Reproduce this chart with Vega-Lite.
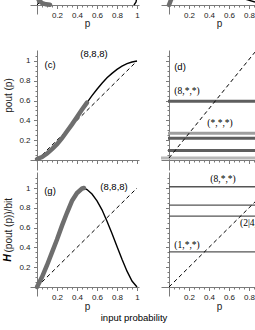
{
  "$schema": "https://vega.github.io/schema/vega-lite/v6.json",
  "padding": {"left": 3, "top": 0, "right": 0, "bottom": 0},
  "config": {
    "view": {"stroke": null},
    "font": "Liberation Sans",
    "text": {"fill": "black"},
    "axis": {"domainColor": "#7a7a7a", "tickColor": "#7a7a7a", "labelColor": "#222222", "labelFont": "Liberation Sans", "labelFontSize": 8, "titleFont": "Liberation Sans", "titleFontSize": 10, "titleFontWeight": "normal", "titleColor": "#222222", "grid": false, "tickSize": 2, "labelPadding": 3, "domainWidth": 1, "tickWidth": 1, "labelOverlap": false, "labelFlush": false}
  },
  "datasets": {
    "diag": [{"p": 0, "v": 0}, {"p": 1, "v": 1}],
    "pout": [{"p": 0, "v": 0.01}, {"p": 0.05, "v": 0.03}, {"p": 0.1, "v": 0.065}, {"p": 0.15, "v": 0.11}, {"p": 0.2, "v": 0.16}, {"p": 0.25, "v": 0.22}, {"p": 0.3, "v": 0.29}, {"p": 0.35, "v": 0.36}, {"p": 0.4, "v": 0.435}, {"p": 0.45, "v": 0.51}, {"p": 0.5, "v": 0.58}, {"p": 0.55, "v": 0.65}, {"p": 0.6, "v": 0.715}, {"p": 0.65, "v": 0.775}, {"p": 0.7, "v": 0.83}, {"p": 0.75, "v": 0.875}, {"p": 0.8, "v": 0.915}, {"p": 0.85, "v": 0.948}, {"p": 0.9, "v": 0.973}, {"p": 0.95, "v": 0.99}, {"p": 1, "v": 1}],
    "hent": [{"p": 0, "v": 0}, {"p": 0.05, "v": 0.1}, {"p": 0.1, "v": 0.22}, {"p": 0.15, "v": 0.35}, {"p": 0.2, "v": 0.48}, {"p": 0.25, "v": 0.62}, {"p": 0.3, "v": 0.75}, {"p": 0.35, "v": 0.87}, {"p": 0.4, "v": 0.95}, {"p": 0.45, "v": 0.995}, {"p": 0.47, "v": 1.0}, {"p": 0.5, "v": 0.985}, {"p": 0.55, "v": 0.94}, {"p": 0.6, "v": 0.87}, {"p": 0.65, "v": 0.78}, {"p": 0.7, "v": 0.665}, {"p": 0.75, "v": 0.54}, {"p": 0.8, "v": 0.41}, {"p": 0.85, "v": 0.28}, {"p": 0.9, "v": 0.16}, {"p": 0.95, "v": 0.06}, {"p": 1, "v": 0}],
    "a_gray": [{"p": 0, "v": 0.09}, {"p": 0.02, "v": 0.045}, {"p": 0.05, "v": 0.02}, {"p": 0.09, "v": 0.007}, {"p": 0.13, "v": 0.002}],
    "a_black": [{"p": 0.97, "v": 0.0}, {"p": 0.99, "v": 0.03}, {"p": 1.0, "v": 0.08}],
    "b_gray": [{"p": 0, "v": 0}, {"p": 0.03, "v": 0.08}],
    "b_black": [{"p": 0.68, "v": 0.09}, {"p": 0.76, "v": 0.06}, {"p": 0.86, "v": 0.03}],
    "ddiag": [{"p": 0, "v": 0.02}, {"p": 0.86, "v": 1.09}],
    "dlines": [{"v": 0.593, "g": "dark", "p0": -0.01, "p1": 0.86}, {"v": 0.27, "g": "light", "p0": -0.01, "p1": 0.86}, {"v": 0.22, "g": "dark", "p0": -0.01, "p1": 0.86}, {"v": 0.097, "g": "dark", "p0": -0.01, "p1": 0.86}, {"v": 0.02, "g": "pale", "p0": -0.08, "p1": 0.86}],
    "hlines": [{"v": 1.013, "p0": 0, "p1": 0.86}, {"v": 0.828, "p0": 0, "p1": 0.86}, {"v": 0.717, "p0": 0, "p1": 0.86}, {"v": 0.354, "p0": 0, "p1": 0.86}],
    "clab": [{"p": 0.57, "v": 1.07, "t": "(8,8,8)"}, {"p": 0.13, "v": 0.96, "t": "(c)"}],
    "glab": [{"p": 0.77, "v": 1.015, "t": "(8,8,8)"}, {"p": 0.13, "v": 0.965, "t": "(g)"}],
    "dlab": [{"p": 0.11, "v": 0.94, "t": "(d)"}],
    "dlab2": [{"p": 0.18, "v": 0.70, "t": "(8,*,*)"}, {"p": 0.51, "v": 0.374, "t": "(*,*,*)"}],
    "hlab": [{"p": 0.54, "v": 1.09, "t": "(8,*,*)"}, {"p": 0.18, "v": 0.424, "t": "(1,*,*)"}],
    "hlab2": [{"p": 0.71, "v": 0.646, "t": "(2|4,*,*)"}],
    "hmark": [{"p": -0.29, "v": 0.293, "t": "H"}]
  },
  "concat": [
    {
      "width": 109, "height": 48,
      "encoding": {
        "x": {"field": "p", "type": "quantitative", "scale": {"domain": [-0.07, 1.02], "nice": false, "zero": false},
          "axis": {"values": [0.05,0.1,0.15,0.2,0.25,0.3,0.35,0.4,0.45,0.5,0.55,0.6,0.65,0.7,0.75,0.8,0.85,0.9,0.95,1], "labelExpr": "abs(datum.value*5 - round(datum.value*5)) < 0.001 ? (datum.value == 1 ? '1' : format(datum.value, '.1f')) : ''", "tickSize": {"condition": {"test": "abs(datum.value*5 - round(datum.value*5)) < 0.001", "value": 3.5}, "value": 2}, "offset": -43, "title": "p", "titleX": 57, "titleY": 21.5, "titleBaseline": "alphabetic"}},
        "y": {"field": "v", "type": "quantitative", "scale": {"domain": [-0.434, 0.0505], "nice": false, "zero": false},
          "axis": {"values": [], "labels": false, "ticks": false, "title": null, "offset": -7, "domainDash": [0, 34, 14, 200]}}
      },
      "layer": [
        {"data": {"name": "diag"}, "mark": {"type": "line", "clip": true, "color": "black", "strokeWidth": 1, "strokeDash": [4, 3]}},
        {"data": {"name": "a_black"}, "mark": {"type": "line", "clip": true, "color": "black", "strokeWidth": 1.4}},
        {"data": {"name": "a_gray"}, "mark": {"type": "line", "clip": true, "color": "#6e6e6e", "strokeWidth": 4.5, "strokeCap": "round"}}
      ]
    },
    {
      "width": 94, "height": 48,
      "encoding": {
        "x": {"field": "p", "type": "quantitative", "scale": {"domain": [-0.08, 0.86], "nice": false, "zero": false},
          "axis": {"values": [0.05,0.1,0.15,0.2,0.25,0.3,0.35,0.4,0.45,0.5,0.55,0.6,0.65,0.7,0.75,0.8,0.85], "labelExpr": "abs(datum.value*5 - round(datum.value*5)) < 0.001 ? format(datum.value, '.1f') : ''", "tickSize": {"condition": {"test": "abs(datum.value*5 - round(datum.value*5)) < 0.001", "value": 3.5}, "value": 2}, "offset": -43, "title": "p", "titleX": 58, "titleY": 21.5, "titleBaseline": "alphabetic"}},
        "y": {"field": "v", "type": "quantitative", "scale": {"domain": [-0.434, 0.0505], "nice": false, "zero": false},
          "axis": {"values": [], "labels": false, "ticks": false, "title": null, "offset": -8, "domainDash": [0, 34, 14, 200]}}
      },
      "layer": [
        {"data": {"name": "diag"}, "mark": {"type": "line", "clip": true, "color": "black", "strokeWidth": 1, "strokeDash": [4, 3]}},
        {"data": {"name": "b_black"}, "mark": {"type": "line", "clip": true, "color": "black", "strokeWidth": 1.4}},
        {"data": {"name": "b_gray"}, "mark": {"type": "line", "clip": true, "color": "#6e6e6e", "strokeWidth": 4.5, "strokeCap": "round"}}
      ]
    },
    {
      "width": 109, "height": 120,
      "encoding": {
        "x": {"field": "p", "type": "quantitative", "scale": {"domain": [-0.07, 1.02], "nice": false, "zero": false},
          "axis": {"values": [0.05,0.1,0.15,0.2,0.25,0.3,0.35,0.4,0.45,0.5,0.55,0.6,0.65,0.7,0.75,0.8,0.85,0.9,0.95,1], "labels": false, "tickSize": {"condition": {"test": "abs(datum.value*5 - round(datum.value*5)) < 0.001", "value": 3.5}, "value": 2}, "offset": -10, "title": null}},
        "y": {"field": "v", "type": "quantitative", "scale": {"domain": [-0.101, 1.111], "nice": false, "zero": false},
          "axis": {"values": [0.05,0.1,0.15,0.2,0.25,0.3,0.35,0.4,0.45,0.5,0.55,0.6,0.65,0.7,0.75,0.8,0.85,0.9,0.95,1,1.05], "labelExpr": "abs(datum.value*5 - round(datum.value*5)) < 0.001 ? (datum.value == 1 ? '1' : format(datum.value, '.1f')) : ''", "tickSize": {"condition": {"test": "abs(datum.value*5 - round(datum.value*5)) < 0.001", "value": 3.5}, "value": 2}, "labelPadding": 3.5, "offset": -7, "title": "pout (p)", "titleX": -29, "titleY": 45, "titleAngle": 270, "titleAlign": "center", "titleBaseline": "middle"}}
      },
      "layer": [
        {"data": {"name": "diag"}, "mark": {"type": "line", "clip": true, "color": "black", "strokeWidth": 1, "strokeDash": [4, 3]}},
        {"data": {"name": "pout"}, "mark": {"type": "line", "clip": true, "color": "black", "strokeWidth": 1.4}},
        {"data": {"name": "pout"}, "transform": [{"filter": "datum.p <= 0.5"}], "mark": {"type": "line", "clip": true, "color": "#6e6e6e", "strokeWidth": 4.5, "strokeCap": "round"}},
        {"data": {"name": "clab"}, "mark": {"type": "text", "font": "Liberation Sans", "fontSize": 9.5, "fill": "black", "align": "center", "baseline": "middle"}, "encoding": {"text": {"field": "t"}}}
      ]
    },
    {
      "width": 94, "height": 120,
      "encoding": {
        "x": {"field": "p", "type": "quantitative", "scale": {"domain": [-0.08, 0.86], "nice": false, "zero": false},
          "axis": {"values": [0.05,0.1,0.15,0.2,0.25,0.3,0.35,0.4,0.45,0.5,0.55,0.6,0.65,0.7,0.75,0.8,0.85], "labels": false, "tickSize": {"condition": {"test": "abs(datum.value*5 - round(datum.value*5)) < 0.001", "value": 3.5}, "value": 2}, "offset": -10, "title": null}},
        "y": {"field": "v", "type": "quantitative", "scale": {"domain": [-0.101, 1.111], "nice": false, "zero": false},
          "axis": {"values": [0.05,0.1,0.15,0.2,0.25,0.3,0.35,0.4,0.45,0.5,0.55,0.6,0.65,0.7,0.75,0.8,0.85,0.9,0.95,1,1.05], "labels": false, "tickSize": {"condition": {"test": "abs(datum.value*5 - round(datum.value*5)) < 0.001", "value": 3.5}, "value": 2}, "offset": -8, "title": null}}
      },
      "layer": [
        {"data": {"name": "dlines"}, "mark": {"type": "rule", "clip": true, "strokeWidth": 3}, "encoding": {"x": {"field": "p0", "type": "quantitative"}, "x2": {"field": "p1"}, "y": {"field": "v", "type": "quantitative"}, "color": {"field": "g", "type": "nominal", "scale": {"domain": ["dark", "light", "pale"], "range": ["#5e5e5e", "#9e9e9e", "#b8b8b8"]}, "legend": null}}},
        {"data": {"name": "ddiag"}, "mark": {"type": "line", "clip": true, "color": "black", "strokeWidth": 1, "strokeDash": [4, 3]}},
        {"data": {"name": "dlab"}, "mark": {"type": "text", "font": "Liberation Sans", "fontSize": 9.5, "fill": "black", "align": "center", "baseline": "middle"}, "encoding": {"text": {"field": "t"}}},
        {"data": {"name": "dlab2"}, "mark": {"type": "text", "font": "Liberation Serif", "fontSize": 9.5, "fill": "black", "align": "center", "baseline": "middle"}, "encoding": {"text": {"field": "t"}}}
      ]
    },
    {
      "width": 109, "height": 124,
      "encoding": {
        "x": {"field": "p", "type": "quantitative", "scale": {"domain": [-0.07, 1.02], "nice": false, "zero": false},
          "axis": {"values": [0.05,0.1,0.15,0.2,0.25,0.3,0.35,0.4,0.45,0.5,0.55,0.6,0.65,0.7,0.75,0.8,0.85,0.9,0.95,1], "labelExpr": "abs(datum.value*5 - round(datum.value*5)) < 0.001 ? (datum.value == 1 ? '1' : format(datum.value, '.1f')) : ''", "tickSize": {"condition": {"test": "abs(datum.value*5 - round(datum.value*5)) < 0.001", "value": 3.5}, "value": 2}, "offset": -9, "title": "p", "titleX": 57, "titleY": 22, "titleBaseline": "alphabetic"}},
        "y": {"field": "v", "type": "quantitative", "scale": {"domain": [-0.091, 1.162], "nice": false, "zero": false},
          "axis": {"values": [0.05,0.1,0.15,0.2,0.25,0.3,0.35,0.4,0.45,0.5,0.55,0.6,0.65,0.7,0.75,0.8,0.85,0.9,0.95,1,1.05,1.1], "labelExpr": "abs(datum.value*5 - round(datum.value*5)) < 0.001 ? (datum.value == 1 ? '1' : format(datum.value, '.1f')) : ''", "tickSize": {"condition": {"test": "abs(datum.value*5 - round(datum.value*5)) < 0.001", "value": 3.5}, "value": 2}, "labelPadding": 3.5, "offset": -7, "title": "(pout (p))/bit", "titleX": -29, "titleY": 80, "titleAngle": 270, "titleAlign": "left", "titleBaseline": "middle"}}
      },
      "layer": [
        {"data": {"name": "diag"}, "mark": {"type": "line", "clip": true, "color": "black", "strokeWidth": 1, "strokeDash": [4, 3]}},
        {"data": {"name": "hent"}, "mark": {"type": "line", "clip": true, "color": "black", "strokeWidth": 1.4}},
        {"data": {"name": "hent"}, "transform": [{"filter": "datum.p <= 0.47"}], "mark": {"type": "line", "clip": true, "color": "#6e6e6e", "strokeWidth": 4.5, "strokeCap": "round"}},
        {"data": {"name": "glab"}, "mark": {"type": "text", "font": "Liberation Sans", "fontSize": 9.5, "fill": "black", "align": "center", "baseline": "middle"}, "encoding": {"text": {"field": "t"}}},
        {"data": {"name": "hmark"}, "mark": {"type": "text", "font": "Liberation Sans", "fontSize": 10.5, "fontWeight": "bold", "fontStyle": "italic", "fill": "black", "align": "center", "baseline": "middle", "angle": 270}, "encoding": {"text": {"field": "t"}}}
      ]
    },
    {
      "width": 94, "height": 124,
      "encoding": {
        "x": {"field": "p", "type": "quantitative", "scale": {"domain": [-0.08, 0.86], "nice": false, "zero": false},
          "axis": {"values": [0.05,0.1,0.15,0.2,0.25,0.3,0.35,0.4,0.45,0.5,0.55,0.6,0.65,0.7,0.75,0.8,0.85], "labelExpr": "abs(datum.value*5 - round(datum.value*5)) < 0.001 ? format(datum.value, '.1f') : ''", "tickSize": {"condition": {"test": "abs(datum.value*5 - round(datum.value*5)) < 0.001", "value": 3.5}, "value": 2}, "offset": -9, "title": "p", "titleX": 58, "titleY": 22, "titleBaseline": "alphabetic"}},
        "y": {"field": "v", "type": "quantitative", "scale": {"domain": [-0.091, 1.162], "nice": false, "zero": false},
          "axis": {"values": [0.05,0.1,0.15,0.2,0.25,0.3,0.35,0.4,0.45,0.5,0.55,0.6,0.65,0.7,0.75,0.8,0.85,0.9,0.95,1,1.05,1.1], "labels": false, "tickSize": {"condition": {"test": "abs(datum.value*5 - round(datum.value*5)) < 0.001", "value": 3.5}, "value": 2}, "offset": -8, "title": null}}
      },
      "layer": [
        {"data": {"name": "hlines"}, "mark": {"type": "rule", "clip": true, "strokeWidth": 1.3, "color": "#555555"}, "encoding": {"x": {"field": "p0", "type": "quantitative"}, "x2": {"field": "p1"}, "y": {"field": "v", "type": "quantitative"}}},
        {"data": {"name": "diag"}, "mark": {"type": "line", "clip": true, "color": "black", "strokeWidth": 1, "strokeDash": [4, 3]}},
        {"data": {"name": "hlab"}, "mark": {"type": "text", "font": "Liberation Serif", "fontSize": 9.5, "fill": "black", "align": "center", "baseline": "middle"}, "encoding": {"text": {"field": "t"}}},
        {"data": {"name": "hlab2"}, "mark": {"type": "text", "clip": true, "font": "Liberation Serif", "fontSize": 9.5, "fill": "black", "align": "left", "baseline": "middle"}, "encoding": {"text": {"field": "t"}}}
      ]
    }
  ],
  "columns": 2,
  "spacing": {"row": 2, "column": 22},
  "bounds": "flush",
  "align": "each",
  "title": {"text": "input probability", "orient": "bottom", "anchor": "middle", "fontSize": 9.5, "fontWeight": "normal", "font": "Liberation Sans", "color": "black", "offset": 2, "dx": 5}
}
